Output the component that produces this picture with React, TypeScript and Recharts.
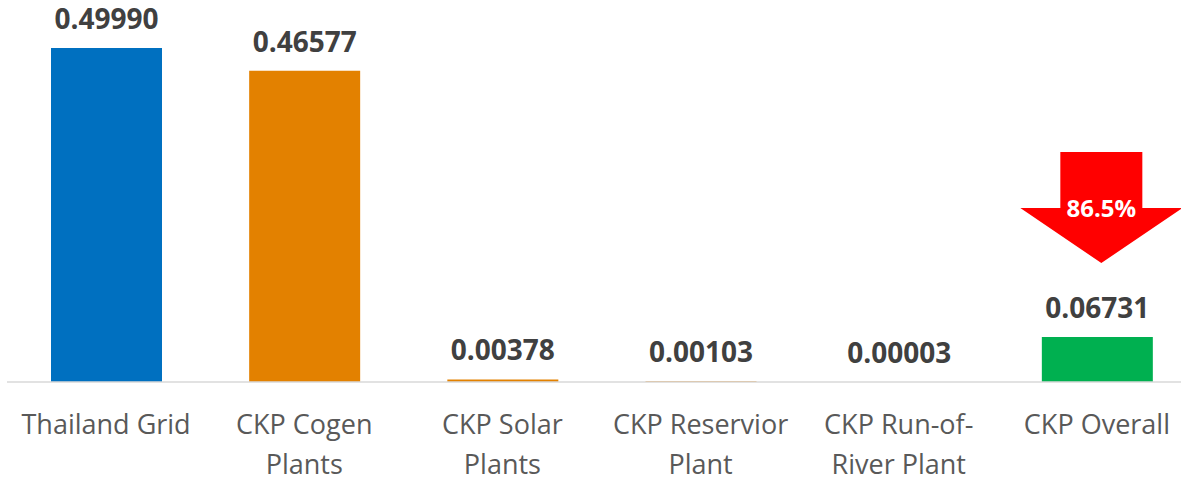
import React from 'react';
import { BarChart, Bar, XAxis, YAxis, LabelList, Cell } from 'recharts';

// ── Emission factor comparison: Thailand grid vs CKP plants

const CATEGORIES = [
  'Thailand Grid',
  'CKP Cogen\nPlants',
  'CKP Solar\nPlants',
  'CKP Reservior\nPlant',
  'CKP Run-of-\nRiver Plant',
  'CKP Overall',
];
const VALUES = [0.4999, 0.46577, 0.00378, 0.00103, 0.00003, 0.06731];
const COLORS = ['#0070C0', '#E38100', '#E38100', '#E38100', '#E38100', '#00B050'];

const data = CATEGORIES.map((name, i) => ({ name, value: VALUES[i] }));

const GRID = VALUES[0];
const OVERALL = VALUES[VALUES.length - 1];
const reduction = ((1 - OVERALL / GRID) * 100).toFixed(1) + '%';

const FONT = '"Open Sans", "DejaVu Sans", sans-serif';

function WrappedTick(props: any) {
  const { x, y, payload } = props;
  const lines = String(payload.value).split('\n');
  return (
    <text x={x} y={y + 52} textAnchor="middle" fill="#595959" fontSize={27} fontFamily={FONT}>
      {lines.map((ln, i) => (
        <tspan key={i} x={x} dy={i === 0 ? 0 : 40}>{ln}</tspan>
      ))}
    </text>
  );
}

function ArrowLabel(props: any) {
  const { x, y, width, value, index } = props;
  const isLast = index === VALUES.length - 1 || (index === undefined && value === OVERALL);
  if (!isLast) return null;
  const cx = x + width / 2 + 4;
  const tip = y - 74;
  const headTop = y - 129;
  const shaftTop = y - 185;
  const pts = [
    [cx - 41, shaftTop], [cx + 41, shaftTop], [cx + 41, headTop], [cx + 81, headTop],
    [cx, tip], [cx - 81, headTop], [cx - 41, headTop],
  ].map(p => p.join(',')).join(' ');
  return (
    <g>
      <polygon points={pts} fill="#FF0000" />
      <text x={cx} y={headTop + 9} textAnchor="middle" fill="#fff" fontSize={24} fontWeight={700} fontFamily={FONT}>
        {reduction}
      </text>
    </g>
  );
}

export default function App() {
  return (
    <div style={{ position: 'absolute', left: 0, top: 0, width: 1181, height: 478, overflow: 'hidden', background: '#fff' }}>
      <BarChart width={1200} height={478} data={data} margin={{ top: 48, right: 4, left: 7, bottom: 0 }}>
        <XAxis
          dataKey="name"
          interval={0}
          height={96}
          tickLine={false}
          tickSize={0}
          tickMargin={0}
          axisLine={{ stroke: '#D9D9D9', strokeWidth: 1.5 }}
          tick={<WrappedTick />}
        />
        <YAxis hide domain={[0, 0.5]} />
        <Bar dataKey="value" barSize={111} isAnimationActive={false}>
          {data.map((d, i) => <Cell key={d.name} fill={COLORS[i]} />)}
          <LabelList
            dataKey="value"
            position="top"
            offset={19}
            formatter={(v: any) => Number(v).toFixed(5)}
            style={{ fill: '#404040', fontSize: 28, fontWeight: 700, fontFamily: FONT }}
          />
          <LabelList dataKey="value" content={<ArrowLabel />} />
        </Bar>
      </BarChart>
    </div>
  );
}
